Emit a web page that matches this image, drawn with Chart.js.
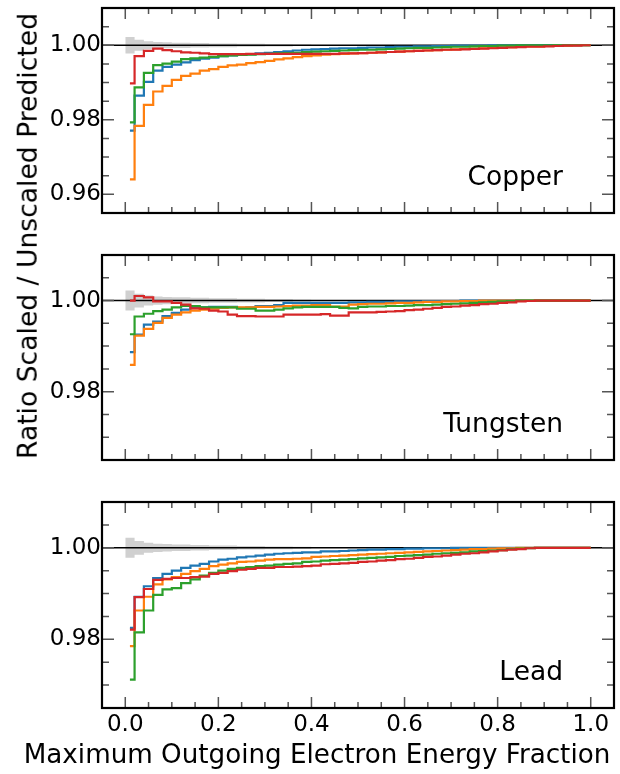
<!DOCTYPE html>
<html>
<head>
<meta charset="utf-8">
<script src="https://cdn.jsdelivr.net/npm/chart.js@4.4.0/dist/chart.umd.min.js"></script>
<style>
  body { margin: 0; background: #fff; }
  #wrap { position: relative; width: 620px; height: 774px; font-family: 'DejaVu Sans', sans-serif; color: #000; }
  #wrap canvas { position: absolute; left: 0; }
  .axis-title { position: absolute; white-space: nowrap; line-height: 1; }
  #ylabel { left: 28px; top: 236px; font-size: 26.6px; transform: translate(-50%, -50%) rotate(-90deg); }
  #xlabel { left: 317px; top: 754px; font-size: 26.2px; transform: translate(-50%, -50%); }
</style>
</head>
<body>
<div id="wrap">
  <canvas id="copperChart" width="620" height="230" style="top:0"></canvas>
  <canvas id="tungstenChart" width="620" height="230" style="top:240px"></canvas>
  <canvas id="leadChart" width="620" height="284" style="top:490px"></canvas>
  <div id="ylabel" class="axis-title">Ratio Scaled / Unscaled Predicted</div>
  <div id="xlabel" class="axis-title">Maximum Outgoing Electron Energy Fraction</div>
</div>
<script>
(function() {
  'use strict';

  // bin edges of the ratio histograms (first bin is a half bin)
  const binEdges = [0.01, 0.02, 0.04, 0.06, 0.08, 0.10, 0.12, 0.14, 0.16, 0.18, 0.20,
    0.22, 0.24, 0.26, 0.28, 0.30, 0.32, 0.34, 0.36, 0.38, 0.40, 0.42, 0.44, 0.46, 0.48, 0.50,
    0.52, 0.54, 0.56, 0.58, 0.60, 0.62, 0.64, 0.66, 0.68, 0.70, 0.72, 0.74, 0.76, 0.78, 0.80,
    0.82, 0.84, 0.86, 0.88, 0.90, 0.92, 0.94, 0.96, 0.98, 1.00];

  // statistical uncertainty band around 1
  const bandEdges = [0.00, 0.02, 0.04, 0.06, 0.08, 0.10, 0.12, 0.14, 0.16, 0.18, 0.20,
    0.22, 0.24, 0.26, 0.28, 0.30, 0.32, 0.34, 0.36, 0.38, 0.40];
  const bandHalfWidth = [0.0022, 0.0015, 0.0011, 0.0009, 0.0008, 0.0007, 0.0007, 0.0006,
    0.0006, 0.0005, 0.0005, 0.0005, 0.0004, 0.0004, 0.0004, 0.0003, 0.0003, 0.0003, 0.0002, 0.0002];

  const xTicks = [0.0, 0.2, 0.4, 0.6, 0.8, 1.0];
  const xRange = [-0.05, 1.05];
  const xMinorStep = 0.05;
  const yMinorStep = 0.005;
  const copperYTicks = [0.96, 0.98, 1.00];
  const otherYTicks = [0.98, 1.00];

  const copperBlue = [0.9771,
    0.9865, 0.9902, 0.9932, 0.9942, 0.9948, 0.9954, 0.9960, 0.9964, 0.9967,
    0.9971, 0.9973, 0.9975, 0.9976, 0.9978, 0.9980, 0.9982, 0.9984, 0.9986, 0.9988, 0.9989, 0.9990,
    0.9991, 0.9992, 0.9992, 0.9993, 0.9994, 0.9994, 0.9995, 0.9996, 0.9996, 0.9997, 0.9997, 0.9998,
    0.9998, 0.9999, 0.9999, 0.9999, 0.9999, 1.0000, 1.0000, 1.0000, 1.0000, 1.0000, 1.0000, 1.0000,
    1.0000, 1.0000, 1.0000, 1.0000];
  const copperOrange = [0.9640,
    0.9784, 0.9840, 0.9876, 0.9891, 0.9907, 0.9918, 0.9924, 0.9932, 0.9936,
    0.9942, 0.9946, 0.9948, 0.9952, 0.9955, 0.9958, 0.9962, 0.9965, 0.9968, 0.9971, 0.9973, 0.9975,
    0.9976, 0.9977, 0.9978, 0.9979, 0.9980, 0.9981, 0.9982, 0.9983, 0.9984, 0.9985, 0.9986, 0.9987,
    0.9988, 0.9989, 0.9990, 0.9991, 0.9992, 0.9993, 0.9994, 0.9995, 0.9996, 0.9997, 0.9997, 0.9998,
    0.9999, 0.9999, 1.0000, 1.0000];
  const copperGreen = [0.9793,
    0.9887, 0.9926, 0.9947, 0.9951, 0.9956, 0.9963, 0.9965, 0.9967, 0.9969,
    0.9971, 0.9973, 0.9974, 0.9975, 0.9976, 0.9977, 0.9978, 0.9979, 0.9980, 0.9982, 0.9983, 0.9984,
    0.9985, 0.9986, 0.9987, 0.9988, 0.9988, 0.9989, 0.9990, 0.9991, 0.9992, 0.9993, 0.9993, 0.9994,
    0.9995, 0.9996, 0.9996, 0.9997, 0.9998, 0.9998, 0.9999, 0.9999, 1.0000, 1.0000, 1.0000, 1.0000,
    1.0000, 1.0000, 1.0000, 1.0000];
  const copperRed = [0.9898,
    0.9971, 0.9985, 0.9991, 0.9987, 0.9984, 0.9981, 0.9980, 0.9978, 0.9976,
    0.9976, 0.9976, 0.9976, 0.9977, 0.9977, 0.9977, 0.9977, 0.9977, 0.9977, 0.9977, 0.9977, 0.9977,
    0.9977, 0.9978, 0.9978, 0.9979, 0.9980, 0.9981, 0.9982, 0.9983, 0.9984, 0.9985, 0.9986, 0.9987,
    0.9988, 0.9988, 0.9989, 0.9990, 0.9991, 0.9992, 0.9993, 0.9994, 0.9995, 0.9996, 0.9996, 0.9997,
    0.9998, 0.9999, 0.9999, 1.0000];

  const tungstenBlue = [0.9887,
    0.9925, 0.9947, 0.9954, 0.9966, 0.9973, 0.9980, 0.9984, 0.9985, 0.9986,
    0.9986, 0.9986, 0.9984, 0.9985, 0.9988, 0.9988, 0.9990, 0.9995, 0.9995, 0.9995, 0.9995, 0.9995,
    0.9995, 0.9995, 0.9996, 0.9996, 0.9997, 0.9997, 0.9997, 0.9998, 0.9998, 0.9998, 0.9999, 0.9999,
    0.9999, 0.9999, 1.0000, 1.0000, 1.0000, 1.0000, 1.0000, 1.0000, 1.0000, 1.0000, 1.0000, 1.0000,
    1.0000, 1.0000, 1.0000, 1.0000];
  const tungstenOrange = [0.9859,
    0.9923, 0.9938, 0.9951, 0.9962, 0.9969, 0.9974, 0.9978, 0.9980, 0.9982,
    0.9984, 0.9985, 0.9985, 0.9985, 0.9986, 0.9986, 0.9987, 0.9988, 0.9989, 0.9989, 0.9990, 0.9990,
    0.9987, 0.9987, 0.9991, 0.9992, 0.9993, 0.9993, 0.9994, 0.9995, 0.9995, 0.9996, 0.9997, 0.9997,
    0.9998, 0.9998, 0.9999, 0.9999, 1.0000, 1.0000, 1.0000, 1.0000, 1.0000, 1.0000, 1.0000, 1.0000,
    1.0000, 1.0000, 1.0000, 1.0000];
  const tungstenGreen = [0.9926,
    0.9965, 0.9971, 0.9977, 0.9980, 0.9985, 0.9988, 0.9988, 0.9985, 0.9985,
    0.9985, 0.9985, 0.9982, 0.9982, 0.9978, 0.9978, 0.9980, 0.9983, 0.9985, 0.9986, 0.9986, 0.9986,
    0.9986, 0.9984, 0.9983, 0.9986, 0.9987, 0.9987, 0.9988, 0.9988, 0.9989, 0.9990, 0.9990, 0.9991,
    0.9992, 0.9993, 0.9994, 0.9995, 0.9996, 0.9997, 0.9998, 0.9999, 1.0000, 1.0000, 1.0000, 1.0000,
    1.0000, 1.0000, 1.0000, 1.0000];
  const tungstenRed = [1.0000,
    1.0010, 1.0007, 0.9998, 0.9998, 0.9995, 0.9991, 0.9983, 0.9982, 0.9978,
    0.9976, 0.9969, 0.9966, 0.9966, 0.9965, 0.9965, 0.9965, 0.9969, 0.9969, 0.9969, 0.9969, 0.9970,
    0.9967, 0.9967, 0.9974, 0.9974, 0.9974, 0.9975, 0.9976, 0.9977, 0.9979, 0.9980, 0.9982, 0.9984,
    0.9986, 0.9987, 0.9989, 0.9990, 0.9992, 0.9993, 0.9995, 0.9996, 0.9998, 0.9999, 1.0000, 1.0000,
    1.0000, 1.0000, 1.0000, 1.0000];

  const leadBlue = [0.9825,
    0.9893, 0.9916, 0.9934, 0.9943, 0.9950, 0.9956, 0.9961, 0.9965, 0.9970,
    0.9974, 0.9976, 0.9979, 0.9981, 0.9983, 0.9985, 0.9987, 0.9988, 0.9989, 0.9990, 0.9990, 0.9992,
    0.9992, 0.9993, 0.9994, 0.9995, 0.9996, 0.9996, 0.9997, 0.9997, 0.9998, 0.9998, 0.9999, 0.9999,
    0.9999, 1.0000, 1.0000, 1.0000, 1.0000, 1.0000, 1.0000, 1.0000, 1.0000, 1.0000, 1.0000, 1.0000,
    1.0000, 1.0000, 1.0000, 1.0000];
  const leadOrange = [0.9785,
    0.9863, 0.9893, 0.9920, 0.9931, 0.9936, 0.9943, 0.9949, 0.9954, 0.9960,
    0.9963, 0.9966, 0.9969, 0.9970, 0.9972, 0.9974, 0.9975, 0.9975, 0.9976, 0.9977, 0.9980, 0.9981,
    0.9982, 0.9983, 0.9984, 0.9985, 0.9986, 0.9987, 0.9988, 0.9989, 0.9990, 0.9991, 0.9992, 0.9993,
    0.9994, 0.9995, 0.9996, 0.9997, 0.9997, 0.9998, 0.9999, 0.9999, 1.0000, 1.0000, 1.0000, 1.0000,
    1.0000, 1.0000, 1.0000, 1.0000];
  const leadGreen = [0.9712,
    0.9815, 0.9863, 0.9897, 0.9909, 0.9912, 0.9923, 0.9931, 0.9939, 0.9945,
    0.9950, 0.9954, 0.9956, 0.9958, 0.9960, 0.9961, 0.9963, 0.9965, 0.9966, 0.9969, 0.9970, 0.9972,
    0.9973, 0.9974, 0.9975, 0.9977, 0.9978, 0.9979, 0.9980, 0.9982, 0.9983, 0.9984, 0.9985, 0.9987,
    0.9988, 0.9989, 0.9990, 0.9992, 0.9993, 0.9994, 0.9995, 0.9997, 0.9998, 0.9999, 1.0000, 1.0000,
    1.0000, 1.0000, 1.0000, 1.0000];
  const leadRed = [0.9821,
    0.9892, 0.9910, 0.9930, 0.9932, 0.9934, 0.9934, 0.9936, 0.9937, 0.9943,
    0.9945, 0.9949, 0.9952, 0.9954, 0.9956, 0.9956, 0.9958, 0.9958, 0.9959, 0.9960, 0.9961, 0.9964,
    0.9965, 0.9966, 0.9967, 0.9969, 0.9970, 0.9972, 0.9973, 0.9975, 0.9976, 0.9978, 0.9980, 0.9981,
    0.9983, 0.9985, 0.9987, 0.9988, 0.9990, 0.9992, 0.9994, 0.9996, 0.9997, 0.9999, 1.0000, 1.0000,
    1.0000, 1.0000, 1.0000, 1.0000];

  const colors = {
    blue: '#1f77b4',
    orange: '#ff7f0e',
    green: '#2ca02c',
    red: '#d62728'
  };
  const FONT = 'DejaVu Sans';

  // left edge of every bin carries its value, last edge closes the final bin
  function stepPoints(edges, values) {
    const pts = values.map((v, i) => ({ x: edges[i], y: v }));
    pts.push({ x: edges[values.length], y: values[values.length - 1] });
    return pts;
  }

  function isMajor(list, v) {
    return list.some(t => Math.abs(t - v) < 1e-9);
  }

  // frame, inward ticks on all sides, material label
  const frameTicks = {
    id: 'frameTicks',
    afterDatasetsDraw(chart, args, opts) {
      const { ctx, chartArea: a, scales: { x, y } } = chart;
      ctx.save();
      ctx.strokeStyle = '#555';
      ctx.lineWidth = 1.5;
      ctx.beginPath();
      for (let k = Math.ceil(x.min / xMinorStep - 1e-6); k <= Math.floor(x.max / xMinorStep + 1e-6); k++) {
        const v = k * xMinorStep;
        const px = x.getPixelForValue(v);
        if (px <= a.left + 2 || px >= a.right - 2) continue;
        const len = isMajor(xTicks, v) ? 11 : 6;
        ctx.moveTo(px, a.bottom); ctx.lineTo(px, a.bottom - len);
        ctx.moveTo(px, a.top); ctx.lineTo(px, a.top + len);
      }
      for (let k = Math.ceil(y.min / yMinorStep - 1e-6); k <= Math.floor(y.max / yMinorStep + 1e-6); k++) {
        const v = k * yMinorStep;
        const py = y.getPixelForValue(v);
        if (py <= a.top + 2 || py >= a.bottom - 2) continue;
        const len = isMajor(opts.yTicks, v) ? 12 : 7;
        ctx.moveTo(a.left, py); ctx.lineTo(a.left + len, py);
        ctx.moveTo(a.right, py); ctx.lineTo(a.right - len, py);
      }
      ctx.stroke();

      ctx.strokeStyle = '#000';
      ctx.lineWidth = 2.2;
      ctx.strokeRect(a.left, a.top, a.right - a.left, a.bottom - a.top);

      ctx.fillStyle = '#000';
      ctx.font = "26.5px '" + FONT + "'";
      ctx.textAlign = 'right';
      ctx.textBaseline = 'alphabetic';
      ctx.fillText(opts.label, a.right - 51, a.bottom - 28);
      ctx.restore();
    }
  };

  function createPanel(canvasId, cfg) {
    const canvas = document.getElementById(canvasId);
    const ctx = canvas.getContext('2d');

    const series = [
      { data: cfg.red, color: colors.red, order: 1 },
      { data: cfg.green, color: colors.green, order: 2 },
      { data: cfg.orange, color: colors.orange, order: 3 },
      { data: cfg.blue, color: colors.blue, order: 4 }
    ];

    const datasets = series.map(s => ({
      data: stepPoints(binEdges, s.data),
      borderColor: s.color,
      borderWidth: 2.2,
      stepped: true,
      fill: false,
      pointRadius: 0,
      order: s.order
    }));

    datasets.push({
      data: [{ x: xRange[0], y: 1 }, { x: xRange[1], y: 1 }],
      borderColor: '#000',
      borderWidth: 1.5,
      pointRadius: 0,
      fill: false,
      order: 5
    });

    datasets.push({
      data: stepPoints(bandEdges, bandHalfWidth.map(w => 1 + w)),
      borderWidth: 0,
      borderColor: 'rgba(0,0,0,0)',
      backgroundColor: '#d0d0d0',
      stepped: true,
      pointRadius: 0,
      fill: '+1',
      order: 6
    });
    datasets.push({
      data: stepPoints(bandEdges, bandHalfWidth.map(w => 1 - w)),
      borderWidth: 0,
      borderColor: 'rgba(0,0,0,0)',
      stepped: true,
      pointRadius: 0,
      fill: false,
      order: 7
    });

    return new Chart(ctx, {
      type: 'line',
      data: { datasets: datasets },
      plugins: [frameTicks],
      options: {
        responsive: false,
        animation: false,
        events: [],
        layout: { padding: cfg.padding },
        plugins: {
          legend: { display: false },
          tooltip: { enabled: false },
          frameTicks: { label: cfg.label, yTicks: cfg.yTicks }
        },
        scales: {
          x: {
            type: 'linear',
            min: xRange[0],
            max: xRange[1],
            display: cfg.showX,
            afterBuildTicks: s => { s.ticks = xTicks.map(v => ({ value: v })); },
            afterFit: s => {
              if (cfg.showX) s.height = 66;
              s.paddingLeft = 0; s.paddingRight = 0;
            },
            grid: { display: false, drawTicks: false },
            border: { display: false },
            ticks: {
              padding: 3,
              color: '#000',
              maxRotation: 0,
              autoSkip: false,
              font: { family: FONT, size: 23 },
              callback: v => Number(v).toFixed(1)
            }
          },
          y: {
            type: 'linear',
            min: cfg.yMin,
            max: cfg.yMax,
            afterBuildTicks: s => { s.ticks = cfg.yTicks.map(v => ({ value: v })); },
            afterFit: s => {
              s.width = 102;
              s.paddingTop = 0; s.paddingBottom = 0;
            },
            grid: { display: false, drawTicks: false },
            border: { display: false },
            ticks: {
              padding: 1,
              color: '#000',
              font: { family: FONT, size: 23 },
              callback: v => Number(v).toFixed(2)
            }
          }
        }
      }
    });
  }

  createPanel('copperChart', {
    label: 'Copper',
    blue: copperBlue, orange: copperOrange, green: copperGreen, red: copperRed,
    yMin: 0.955, yMax: 1.01, yTicks: copperYTicks,
    padding: { top: 8, right: 6, bottom: 17, left: 0 },
    showX: false
  });

  createPanel('tungstenChart', {
    label: 'Tungsten',
    blue: tungstenBlue, orange: tungstenOrange, green: tungstenGreen, red: tungstenRed,
    yMin: 0.965, yMax: 1.01, yTicks: otherYTicks,
    padding: { top: 15, right: 6, bottom: 10, left: 0 },
    showX: false
  });

  createPanel('leadChart', {
    label: 'Lead',
    blue: leadBlue, orange: leadOrange, green: leadGreen, red: leadRed,
    yMin: 0.965, yMax: 1.01, yTicks: otherYTicks,
    padding: { top: 12, right: 6, bottom: 0, left: 0 },
    showX: true
  });

})();
</script>
</body>
</html>
